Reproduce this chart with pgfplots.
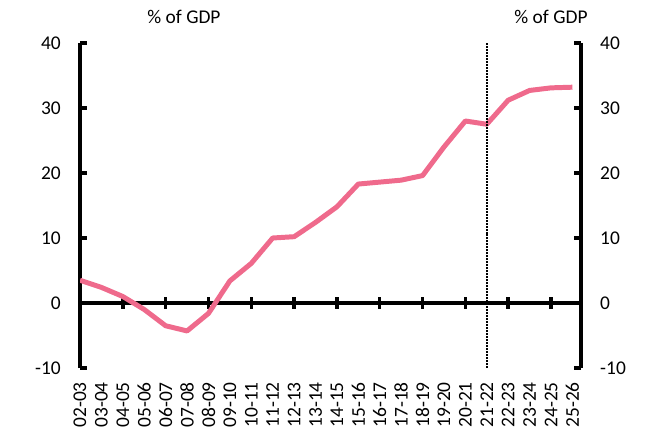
\documentclass[border=0pt]{standalone}
\usepackage{pgfplots}
\pgfplotsset{compat=1.18}
\usepackage{fontspec}
\setmainfont{Carlito}
\definecolor{linepink}{RGB}{239,106,140}

\pgfplotsset{
  common/.style={
    scale only axis, width=501bp, height=325bp,
    xmin=0, xmax=23.4, ymin=-10, ymax=40,
    /pgf/number format/assume math mode=true,
    tick label style={font=\fontsize{19.5}{22}\selectfont},
  },
}

\begin{document}
\fontsize{19.5}{22}\selectfont
\begin{tikzpicture}
\path[use as bounding box] (-80bp,-76bp) rectangle (574bp,368bp);

% zero line with its ticks
\begin{axis}[common,
    axis x line=middle, axis y line=none,
    axis line style={-, line width=3.5pt},
    xtick={2,4,...,22}, xticklabels={},
    ytick=\empty,
    tick align=center, major tick length=12bp,
    xtick style={line width=3.5pt, black}]
\end{axis}

% right hand axis
\begin{axis}[common,
    axis y line*=right, axis x line=none,
    ytick={-10,0,...,40},
    tick align=inside, major tick length=7bp,
    ytick style={line width=3.5pt, black},
    axis line style={line width=3.5pt},
    yticklabel style={inner sep=0pt},
    yticklabel shift=19bp]
\end{axis}

% left hand axis with data
\begin{axis}[common,
    axis y line*=left, axis x line*=bottom,
    x axis line style={draw=none},
    y axis line style={line width=3.5pt},
    ytick={-10,0,...,40},
    tick align=inside, major tick length=7bp,
    ytick style={line width=3.5pt, black},
    xtick style={draw=none},
    yticklabel style={inner sep=0pt},
    yticklabel shift=19bp,
    xtick={0,...,23},
    xticklabels={02-03,03-04,04-05,05-06,06-07,07-08,08-09,09-10,10-11,11-12,12-13,13-14,14-15,15-16,16-17,17-18,18-19,19-20,20-21,21-22,22-23,23-24,24-25,25-26},
    xticklabel style={rotate=90, anchor=east, inner sep=0pt},
    xticklabel shift=14bp]

\addplot[linepink, line width=5pt, line join=round] coordinates {
  (0,3.5) (1,2.4) (2,1.0) (3,-1.0) (4,-3.5) (5,-4.3)
  (6,-1.6) (7,3.4) (8,6.1) (9,10.0) (10,10.2) (11,12.4)
  (12,14.8) (13,18.3) (14,18.6) (15,18.9) (16,19.6) (17,24.0)
  (18,28.0) (19,27.5) (20,31.2) (21,32.7) (22,33.1) (23,33.2)
};

\addplot[black, line width=2pt, dash pattern=on 2pt off 1pt] coordinates {
  (19,-10) (19,40)
};
\end{axis}

\node at (104bp,351bp) {\% of GDP};
\node at (471bp,351bp) {\% of GDP};
\end{tikzpicture}
\end{document}
